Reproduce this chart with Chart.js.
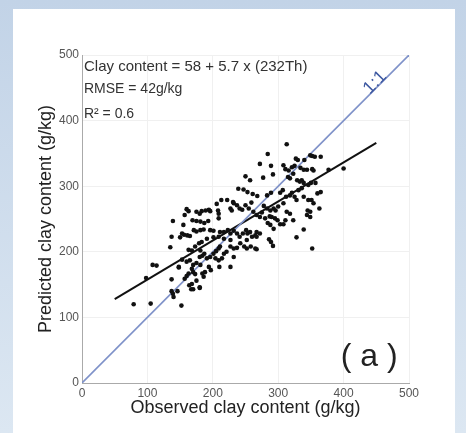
<!DOCTYPE html>
<html>
<head>
<meta charset="utf-8">
<script src="https://cdn.jsdelivr.net/npm/chart.js@4.4.1/dist/chart.umd.min.js"></script>
<style>
  html, body { margin: 0; padding: 0; }
  body {
    width: 466px; height: 433px; overflow: hidden; position: relative;
    background: linear-gradient(to bottom, #c2d3e7, #dce7f2);
  }
  #panel { position: absolute; left: 13px; top: 9px; width: 442px; height: 424px; background: #fff; }
  #chart { position: absolute; left: 0; top: 0; }
</style>
</head>
<body>
<div id="panel"></div>
<canvas id="chart" width="466" height="433"></canvas>
<script>
// Observed vs predicted clay content (g/kg)
const obsX = [
  79, 105, 152, 98, 108, 114, 137, 137, 139, 140, 146, 148, 157, 164, 167, 180,
  313, 284, 327, 330, 340, 349, 352, 356, 365, 400, 377, 272, 289, 308, 311, 316,
  321, 325, 334, 339, 344, 352, 354, 250, 257, 277, 292, 315, 318, 323, 329, 333,
  336, 339, 346, 350, 357, 360, 365, 239, 247, 253, 261, 268, 283, 289, 303, 307,
  312, 318, 321, 325, 328, 331, 336, 339, 346, 351, 354, 363, 345, 349, 328, 339,
  352, 344, 349, 222, 231, 232, 227, 229, 237, 241, 245, 250, 255, 259, 262, 267,
  275, 278, 283, 288, 293, 296, 300, 308, 313, 272, 280, 287, 290, 295, 299, 284,
  288, 293, 303, 308, 311, 318, 323, 286, 289, 292, 272, 267, 213, 206, 209, 208,
  194, 196, 209, 160, 163, 175, 180, 183, 189, 157, 169, 175, 181, 187, 193, 139,
  155, 137, 150, 153, 156, 161, 165, 171, 175, 181, 186, 196, 201, 211, 217, 223,
  227, 232, 237, 241, 246, 251, 253, 257, 260, 265, 267, 252, 248, 252, 258, 265,
  267, 242, 232, 237, 227, 217, 209, 201, 191, 183, 179, 173, 168, 163, 181, 187,
  191, 196, 201, 205, 209, 211, 204, 209, 214, 217, 221, 210, 227, 227, 232, 194,
  197, 181, 175, 170, 168, 170, 173, 163, 160, 175, 168, 170, 180, 184, 186, 188,
  165, 160, 153, 148, 135, 180, 184
];
const predY = [
  120, 121, 118, 160, 180, 179, 158, 140, 136, 131, 140, 176, 159, 149, 143, 145,
  364, 349, 342, 340, 340, 347, 346, 345, 345, 327, 325, 334, 331, 332, 326, 324,
  329, 331, 328, 325, 325, 326, 324, 315, 309, 313, 318, 314, 312, 319, 309, 307,
  309, 305, 302, 305, 305, 289, 291, 296, 295, 291, 288, 285, 286, 290, 290, 294,
  284, 286, 290, 284, 279, 294, 297, 284, 279, 279, 274, 266, 263, 261, 222, 234,
  205, 256, 253, 279, 276, 274, 266, 263, 271, 266, 264, 271, 266, 275, 261, 256,
  260, 270, 266, 263, 266, 263, 269, 274, 261, 253, 251, 254, 253, 251, 248, 244,
  241, 235, 242, 242, 248, 258, 248, 219, 215, 209, 228, 230, 279, 273, 258, 263,
  264, 262, 251, 265, 262, 261, 258, 262, 263, 256, 248, 247, 246, 244, 247, 247,
  241, 223, 222, 228, 226, 225, 224, 233, 231, 233, 234, 233, 232, 230, 230, 233,
  228, 232, 228, 223, 228, 233, 228, 230, 223, 225, 223, 218, 208, 205, 208, 205,
  204, 213, 205, 206, 218, 220, 223, 222, 220, 215, 213, 208, 202, 203, 202, 197,
  190, 192, 197, 201, 205, 208, 190, 187, 190, 197, 200, 177, 177, 208, 192, 177,
  172, 180, 183, 180, 174, 169, 166, 167, 163, 156, 151, 143, 146, 167, 162, 169,
  187, 185, 188, 177, 207, 192, 194
];

// 1:1 reference and fitted regression line end points
const oneToOneX = [0, 500];
const oneToOneY = [0, 500];
const fitX = [50, 450];
const fitY = [128, 366];

const tickValues = [0, 100, 200, 300, 400, 500];

const FONT = "'Liberation Sans', Arial, Helvetica, sans-serif";

function toPoints(xs, ys) {
  return xs.map((x, i) => ({ x: x, y: ys[i] }));
}

// text labels placed in data coordinates
const notes = [
  { text: 'Clay content = 58 + 5.7 x (232Th)', x: 3, y: 482, size: 15, color: '#333', align: 'left' },
  { text: 'RMSE = 42g/kg', x: 3, y: 448, size: 14, color: '#333', align: 'left' },
  { text: 'R\u00b2 = 0.6', x: 3, y: 410, size: 14, color: '#333', align: 'left' },
  { text: '( a )', x: 439, y: 40, size: 32, color: '#222', align: 'center' },
  { text: '1:1', x: 448, y: 458, size: 18, color: '#3d58a0', align: 'center', rotate: -Math.PI / 4 }
];

const notesPlugin = {
  id: 'notes',
  afterDatasetsDraw(chart) {
    const ctx = chart.ctx;
    const xs = chart.scales.x, ys = chart.scales.y;
    notes.forEach(n => {
      ctx.save();
      ctx.font = n.size + 'px ' + FONT;
      ctx.fillStyle = n.color;
      ctx.textAlign = n.align;
      ctx.textBaseline = 'middle';
      ctx.translate(xs.getPixelForValue(n.x), ys.getPixelForValue(n.y));
      if (n.rotate) ctx.rotate(n.rotate);
      ctx.fillText(n.text, 0, 0);
      ctx.restore();
    });
  }
};

function axis(titleText, fitFn, titlePad) {
  return {
    type: 'linear',
    min: 0,
    max: 500,
    afterBuildTicks: s => { s.ticks = tickValues.map(v => ({ value: v })); },
    afterFit: fitFn,
    ticks: { color: '#555', font: { family: FONT, size: 12 }, padding: 3 },
    grid: { color: '#f0f0f0', drawTicks: false },
    border: { color: '#aaa', width: 1 },
    title: { display: true, text: titleText, color: '#222', font: { family: FONT, size: 18 }, padding: titlePad }
  };
}

new Chart(document.getElementById('chart'), {
  type: 'scatter',
  data: {
    datasets: [
      {
        label: 'Samples',
        data: toPoints(obsX, predY),
        backgroundColor: '#111',
        borderWidth: 0,
        pointRadius: 2.3
      },
      {
        label: '1:1',
        data: toPoints(oneToOneX, oneToOneY),
        showLine: true,
        borderColor: '#7f92c9',
        borderWidth: 1.6,
        pointRadius: 0
      },
      {
        label: 'Fit',
        data: toPoints(fitX, fitY),
        showLine: true,
        borderColor: '#111',
        borderWidth: 2,
        pointRadius: 0
      }
    ]
  },
  options: {
    responsive: false,
    animation: false,
    devicePixelRatio: 1,
    layout: { padding: { left: 31, right: 57, top: 55, bottom: 0 } },
    plugins: { legend: { display: false }, tooltip: { enabled: false } },
    scales: {
      x: axis('Observed clay content (g/kg)', s => { s.height = 50; }, { top: 0, bottom: 14 }),
      y: axis('Predicted clay content (g/kg)', s => { s.width = 51; }, { top: 4, bottom: 0 })
    }
  },
  plugins: [notesPlugin]
});
</script>
</body>
</html>
